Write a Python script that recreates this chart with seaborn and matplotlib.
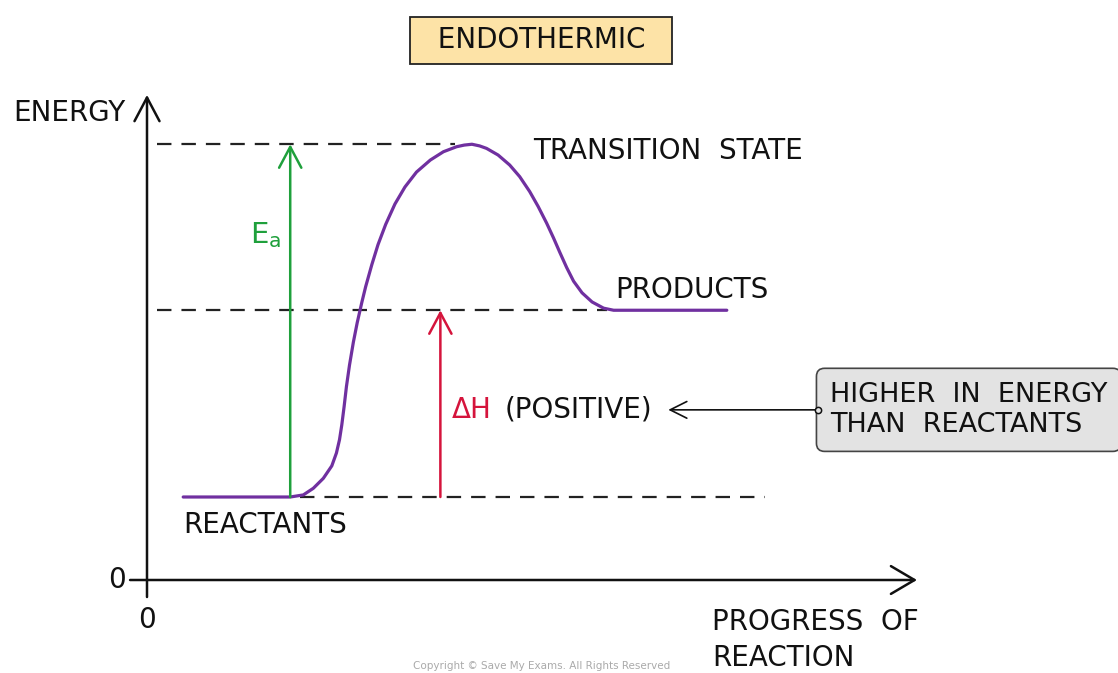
"""
Diagrama de perfil de energia de uma reação endotérmica.
"""
import matplotlib
matplotlib.use("Agg")
import matplotlib.pyplot as plt
import seaborn as sns
import pandas as pd

# curva de energia (progresso da reação x energia)
progress = [0.47, 1.86, 2.03, 2.16, 2.29, 2.40, 2.46, 2.50, 2.53, 2.56, 2.59,
            2.63, 2.68, 2.73, 2.79, 2.84, 2.92, 3.00, 3.10, 3.22, 3.35, 3.50,
            3.68, 3.85, 4.02, 4.12, 4.22, 4.32, 4.41, 4.56, 4.71, 4.84, 4.97,
            5.08, 5.19, 5.28, 5.36, 5.45, 5.54, 5.65, 5.78, 5.93, 6.06, 7.53]
energy = [20, 20, 20.5, 22.1, 24.5, 27.5, 30.6, 33.8, 37.4, 41.8, 46.6,
          51.8, 57.3, 62.0, 66.9, 70.7, 76.0, 80.8, 85.7, 90.6, 94.7, 98.3,
          101.2, 103.2, 104.4, 104.8, 105, 104.6, 104.0, 102.4, 100.0, 97.2, 93.6,
          90.0, 86.0, 82.4, 79.0, 75.3, 72.0, 69.2, 67.0, 65.5, 65, 65]

# níveis de energia
E_REACTANTS = 20
E_PRODUCTS = 65
E_TRANSITION = 105

# extensão das linhas tracejadas (progresso)
dash_starts = [0.13, 0.13, 1.99]
dash_ends = [4.0, 5.97, 8.03]
dash_levels = [E_TRANSITION, E_PRODUCTS, E_REACTANTS]

EA_X = 1.86
DH_X = 3.81

PURPLE = "#7030a0"
GREEN = "#1fa03c"
RED = "#d5143c"
FONT = ["DejaVu Sans"]
FS = 20

sns.set_theme(style="white")
plt.rcParams["font.family"] = FONT
plt.rcParams["mathtext.default"] = "regular"

fig = plt.figure(figsize=(11.18, 6.73), dpi=100)
ax = fig.add_axes([0, 0, 1, 1])
ax.set_xlim(-147 / 77, (1118 - 147) / 77)
ax.set_ylim((580 - 673) / 4.15, 580 / 4.15)
ax.axis("off")

# linhas tracejadas dos níveis
ax.hlines(dash_levels, dash_starts, dash_ends, colors="#222222",
          linestyles=(0, (6.5, 4.5)), linewidth=1.6)

# curva
df = pd.DataFrame({"progress": progress, "energy": energy})
sns.lineplot(data=df, x="progress", y="energy", sort=False, estimator=None,
             color=PURPLE, linewidth=2.3, ax=ax,
             solid_joinstyle="round", solid_capstyle="round")
ax.set_xlabel("")
ax.set_ylabel("")


def arrow(x0, y0, x1, y1, color, lw, hl, hw):
    ax.annotate("", xy=(x1, y1), xytext=(x0, y0),
                arrowprops=dict(arrowstyle=f"->,head_length={hl},head_width={hw}",
                                color=color, lw=lw, shrinkA=0, shrinkB=0,
                                mutation_scale=20))


# eixos
arrow(0, -4.1, 0, 116.9, "#111111", 1.8, 0.85, 0.45)
arrow(-0.22, 0, 10.0, 0, "#111111", 1.8, 0.85, 0.5)

# Ea e ΔH
arrow(EA_X, E_REACTANTS, EA_X, E_TRANSITION, GREEN, 1.8, 0.75, 0.4)
arrow(DH_X, E_REACTANTS, DH_X, E_PRODUCTS, RED, 1.8, 0.75, 0.4)

# seta da caixa de anotação
arrow(8.71, 41, 6.77, 41, "#111111", 1.2, 0.6, 0.3)

txt = dict(color="#111111", fontsize=FS, va="center")
ax.text(-1.74, 112.5, "ENERGY", **txt)
ax.text(5.01, 103.4, "TRANSITION  STATE", **txt)
ax.text(6.08, 69.9, "PRODUCTS", **txt)
ax.text(0.47, 13.3, "REACTANTS", **txt)
ax.text(-0.51, 0, "0", **txt)
ax.text(0, -9.6, "0", ha="center", **txt)
ax.text(7.34, -10.1, "PROGRESS  OF", **txt)
ax.text(7.34, -18.8, "REACTION", **txt)
ax.text(4.65, 41, "(POSITIVE)", **txt)

ax.text(1.34, 83.1, "E$_a$", color=GREEN, fontsize=21, va="center")
ax.text(3.96, 41, "ΔH", color=RED, fontsize=FS, va="center")

ax.text(5.12, 130.0, "  ENDOTHERMIC  ", color="#111111", fontsize=FS,
        ha="center", va="center",
        bbox=dict(boxstyle="square,pad=0.33", facecolor="#fde3a7",
                  edgecolor="#222222", linewidth=1.3))

ax.text(8.87, 41, "HIGHER  IN  ENERGY\nTHAN  REACTANTS", color="#111111",
        fontsize=19.5, va="center", linespacing=1.2,
        bbox=dict(boxstyle="round,pad=0.5,rounding_size=0.3",
                  facecolor="#e3e3e3", edgecolor="#444444", linewidth=1.2),
        zorder=3)
ax.plot([8.71], [41], marker="o", markersize=4.5, markerfacecolor="#e3e3e3",
        markeredgecolor="#111111", markeredgewidth=1.1, zorder=4)

ax.text(5.12, -20.7, "Copyright © Save My Exams. All Rights Reserved",
        color="#aaaaaa", fontsize=7.5, ha="center", va="center")

fig.savefig("out.png", dpi=100)
